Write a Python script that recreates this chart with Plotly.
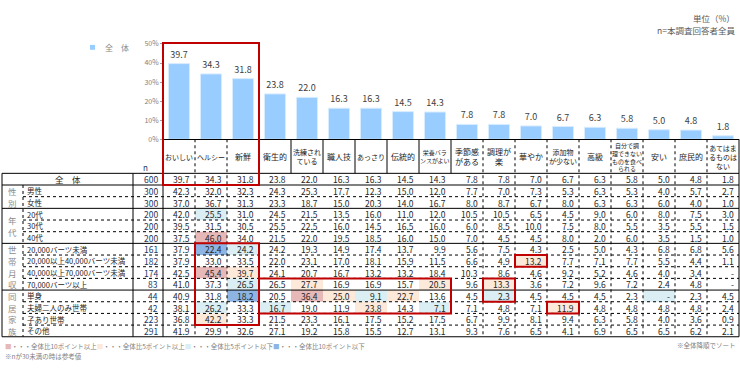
import plotly.graph_objects as go

# ---------------- data ----------------
categories = ["おいしい", "ヘルシー", "新鮮", "衛生的", "洗練され<br>ている", "職人技", "あっさり", "伝統的",
              "栄養バラ<br>ンスがよい", "季節感<br>がある", "調理が<br>楽", "華やか", "添加物<br>が少ない", "高級",
              "自分で調<br>理できない<br>ものを食べ<br>られる", "安い", "庶民的", "あてはま<br>るものは<br>ない"]

overall = [39.7, 34.3, 31.8, 23.8, 22.0, 16.3, 16.3, 14.5, 14.3, 7.8, 7.8, 7.0, 6.7, 6.3, 5.8, 5.0, 4.8, 1.8]
male = [42.3, 32.0, 32.3, 24.3, 25.3, 17.7, 12.3, 15.0, 12.0, 7.7, 7.0, 7.3, 5.3, 6.3, 5.3, 4.0, 5.7, 2.7]
female = [37.0, 36.7, 31.3, 23.3, 18.7, 15.0, 20.3, 14.0, 16.7, 8.0, 8.7, 6.7, 8.0, 6.3, 6.3, 6.0, 4.0, 1.0]
age20 = [42.0, 25.5, 31.0, 24.5, 21.5, 13.5, 16.0, 11.0, 12.0, 10.5, 10.5, 6.5, 4.5, 9.0, 6.0, 8.0, 7.5, 3.0]
age30 = [39.5, 31.5, 30.5, 25.5, 22.5, 16.0, 14.5, 16.5, 16.0, 6.0, 8.5, 10.0, 7.5, 8.0, 5.5, 3.5, 5.5, 1.5]
age40 = [37.5, 46.0, 34.0, 21.5, 22.0, 19.5, 18.5, 16.0, 15.0, 7.0, 4.5, 4.5, 8.0, 2.0, 6.0, 3.5, 1.5, 1.0]
inc_lt20k = [37.9, 22.4, 24.2, 24.2, 19.3, 14.9, 17.4, 13.7, 9.9, 5.6, 7.5, 4.3, 2.5, 5.0, 4.3, 6.8, 6.8, 5.6]
inc_20_40k = [37.9, 33.0, 33.5, 22.0, 23.1, 17.0, 18.1, 15.9, 11.5, 6.6, 4.9, 13.2, 7.7, 7.1, 7.7, 5.5, 4.4, 1.1]
inc_40_70k = [42.5, 45.4, 39.7, 24.1, 20.7, 16.7, 13.2, 13.2, 18.4, 10.3, 8.6, 4.6, 9.2, 5.2, 4.6, 4.0, 3.4, None]
inc_70k = [41.0, 37.3, 26.5, 26.5, 27.7, 16.9, 16.9, 15.7, 20.5, 9.6, 13.3, 3.6, 7.2, 9.6, 7.2, 2.4, 4.8, None]
single = [40.9, 31.8, 18.2, 20.5, 36.4, 25.0, 9.1, 22.7, 13.6, 4.5, 2.3, 4.5, 4.5, 4.5, 2.3, None, 2.3, 4.5]
couple = [38.1, 26.2, 33.3, 16.7, 19.0, 11.9, 23.8, 14.3, 7.1, 7.1, 4.8, 7.1, 11.9, 4.8, 4.8, 4.8, 4.8, 2.4]
with_kids = [36.8, 42.2, 33.3, 21.5, 23.3, 16.1, 17.5, 15.2, 17.5, 6.7, 9.9, 8.1, 9.4, 6.3, 5.8, 4.0, 3.6, 0.9]
other = [41.9, 29.9, 32.6, 27.1, 19.2, 15.8, 15.5, 12.7, 13.1, 9.3, 7.6, 6.5, 4.1, 6.9, 6.5, 6.5, 6.2, 2.1]

row_labels = ["全　体", "男性", "女性", "20代", "30代", "40代", "20,000バーツ未満", "20,000以上40,000バーツ未満",
              "40,000以上70,000バーツ未満", "70,000バーツ以上", "単身", "夫婦二人のみ世帯", "子あり世帯", "その他"]
n_values = [600, 300, 300, 200, 200, 200, 161, 182, 174, 83, 44, 42, 223, 291]
group_names = ["性別", "年代", "世帯月収", "同居家族"]
group_first_row = [1, 3, 6, 10]
group_last_row = [2, 5, 9, 13]
# emphasised blocks: (first col, last col, first row, last row); row None = from chart top
red_boxes = [(0, 2, None, 0), (1, 2, 6, 12), (3, 8, 9, 11), (10, 10, 9, 10), (11, 11, 7, 7), (12, 12, 11, 11)]

table_rows = [overall, male, female, age20, age30, age40, inc_lt20k, inc_20_40k, inc_40_70k, inc_70k,
              single, couple, with_kids, other]

# ---------------- geometry / style ----------------
W, H = 740, 368
COL_LEFT, COL_W = 163, 32
ROW_TOP, ROW_H = 172, 12
BASE_PX, TOP_PX = 137, 39
FONT = "Noto Sans CJK JP"
BAR_COLOR = "#99CCFF"
C_PINK, C_ORANGE, C_LBLUE, C_BLUE = "#E6B9B8", "#FDE9D9", "#DAEEF3", "#8DB4E2"
RED = "#C00000"
NCOL = len(categories)
NROW = len(table_rows)


def px2x(px):
    return (px - COL_LEFT) / COL_W - 0.5


def py2y(py):
    return (py - ROW_TOP) / ROW_H - 0.5


def band_color(v, base):
    d = (0.0 if v is None else v) - base
    if d >= 10 - 1e-9:
        return C_PINK
    if d >= 5 - 1e-9:
        return C_ORANGE
    if d <= -10 + 1e-9:
        return C_BLUE
    if d <= -5 + 1e-9:
        return C_LBLUE
    return None


fig = go.Figure()
fig.add_trace(go.Bar(
    x=list(range(NCOL)), y=overall, marker=dict(color=BAR_COLOR, line=dict(color="#D9ECFF", width=1)),
    text=[f"{v:.1f}" for v in overall], textposition="outside", cliponaxis=False,
    textfont=dict(size=9, color="#404040", family=FONT), hoverinfo="skip", width=0.66,
))

shapes = []
ann = []

top_y = py2y(BASE_PX)
bot_y = NROW - 0.5

# cell fills
for r in range(1, NROW):
    for c in range(NCOL):
        col = band_color(table_rows[r][c], overall[c])
        if col:
            shapes.append(dict(type="rect", xref="x2", yref="y2", x0=c - 0.5, x1=c + 0.5,
                               y0=r - 0.5, y1=r + 0.5, fillcolor=col, line=dict(width=0), layer="above"))


def hline(y, x0px, dash):
    shapes.append(dict(type="line", xref="x2", yref="y2", x0=px2x(x0px), x1=NCOL - 0.5, y0=y, y1=y,
                       line=dict(color="black", width=1, dash=dash)))


def vline(x, y0, y1, dash):
    shapes.append(dict(type="line", xref="x2", yref="y2", x0=x, x1=x, y0=y0, y1=y1,
                       line=dict(color="black", width=1, dash=dash)))


# horizontal lines
hline(-0.5, 2, "solid")
solid_after = [0] + group_last_row
for r in range(NROW):
    if r in solid_after:
        hline(r + 0.5, 2, "solid")
    else:
        hline(r + 0.5, 23, "dot")

# vertical lines
vline(px2x(2), -0.5, bot_y, "solid")
vline(px2x(23), 0.5, bot_y, "dot")
vline(px2x(133), -0.5, bot_y, "solid")
vline(-0.5, -0.5, bot_y, "solid")
vline(NCOL - 0.5, top_y, bot_y, "solid")
for b in range(1, NCOL):
    if 3 <= b <= 9:
        vline(b - 0.5, top_y, -0.5, "solid")
    else:
        vline(b - 0.5, top_y, bot_y, "dot")

# red boxes
for c0, c1, r0, r1 in red_boxes:
    y0 = py2y(TOP_PX - 1) if r0 is None else r0 - 0.5
    shapes.append(dict(type="rect", xref="x2", yref="y2", x0=c0 - 0.5, x1=c1 + 0.5, y0=y0, y1=r1 + 0.5,
                       line=dict(color=RED, width=2), fillcolor="rgba(0,0,0,0)"))

# header labels
hdr_y = py2y(155)
for c, lab in enumerate(categories):
    lines = lab.split("<br>")
    m = max(len(s) for s in lines)
    fs = 8 if m <= 3 else (7 if m <= 4 else 6)
    ann.append(dict(x=c, y=hdr_y, xref="x2", yref="y2", text=lab, showarrow=False,
                    font=dict(size=fs, color="#1a1a1a"), xanchor="center", yanchor="middle"))

# values
for r in range(NROW):
    for c in range(NCOL):
        v = table_rows[r][c]
        ann.append(dict(x=c + 0.5, y=r, xref="x2", yref="y2", text="-" if v is None else f"{v:.1f}",
                        showarrow=False, xanchor="right", yanchor="middle", xshift=-3,
                        font=dict(size=8.5, color="#262626")))
    ann.append(dict(x=px2x(160), y=r, xref="x2", yref="y2", text=str(n_values[r]), showarrow=False,
                    xanchor="right", yanchor="middle", font=dict(size=8.5, color="#203864")))
    if r == 0:
        ann.append(dict(x=px2x(68), y=r, xref="x2", yref="y2", text=row_labels[r], showarrow=False,
                        xanchor="center", yanchor="middle", font=dict(size=8.5, color="#262626")))
    else:
        ann.append(dict(x=px2x(25), y=r, xref="x2", yref="y2", text=row_labels[r], showarrow=False,
                        xanchor="left", yanchor="middle", font=dict(size=7.5, color="#262626")))

# group labels (vertical characters)
for name, g0, g1 in zip(group_names, group_first_row, group_last_row):
    mid = (g0 + g1) / 2
    k = len(name)
    for j, ch in enumerate(name):
        ann.append(dict(x=px2x(12.5), y=mid + (j - (k - 1) / 2), xref="x2", yref="y2", text=ch,
                        showarrow=False, xanchor="center", yanchor="middle", borderpad=0,
                        font=dict(size=8.5, color="#8C8C8C")))

ann.append(dict(x=px2x(145), y=py2y(166), xref="x2", yref="y2", text="n", showarrow=False,
                xanchor="center", yanchor="middle", font=dict(size=8, color="#203864")))

# top legend
shapes.append(dict(type="rect", xref="paper", yref="paper", x0=90 / W, x1=95 / W,
                   y0=1 - 45 / H, y1=1 - 40 / H, fillcolor=BAR_COLOR, line=dict(width=0)))
ann.append(dict(x=103 / W, y=1 - 42.5 / H, xref="paper", yref="paper", text="全　体", showarrow=False,
                xanchor="left", yanchor="middle", font=dict(size=8, color="#8C8C8C")))

# unit notes
ann.append(dict(x=737 / W, y=1 - 12 / H, xref="paper", yref="paper", text="単位（%）", showarrow=False,
                xanchor="right", yanchor="middle", font=dict(size=8.5, color="#595959")))
ann.append(dict(x=737 / W, y=1 - 25 / H, xref="paper", yref="paper", text="n=本調査回答者全員",
                showarrow=False, xanchor="right", yanchor="middle", font=dict(size=8.5, color="#595959")))

# bottom legend
leg = (f'<span style="color:{C_PINK}">■</span>・・・全体比10ポイント以上'
       f'<span style="color:{C_ORANGE}">■</span>・・・全体比5ポイント以上'
       f'<span style="color:{C_LBLUE}">■</span>・・・全体比5ポイント以下'
       f'<span style="color:{C_BLUE}">■</span>・・・全体比10ポイント以下')
ann.append(dict(x=3 / W, y=1 - 349 / H, xref="paper", yref="paper", text=leg, showarrow=False,
                xanchor="left", yanchor="middle", font=dict(size=6.5, color="#7F7F7F")))
ann.append(dict(x=3 / W, y=1 - 360 / H, xref="paper", yref="paper", text="※nが30未満の時は参考値",
                showarrow=False, xanchor="left", yanchor="middle", font=dict(size=6.5, color="#7F7F7F")))
ann.append(dict(x=738 / W, y=1 - 348 / H, xref="paper", yref="paper", text="※全体降順でソート",
                showarrow=False, xanchor="right", yanchor="middle", font=dict(size=6.5, color="#7F7F7F")))

fig.update_layout(
    width=W, height=H, autosize=False, margin=dict(l=0, r=0, t=0, b=0, pad=0),
    paper_bgcolor="white", plot_bgcolor="rgba(0,0,0,0)", showlegend=False,
    font=dict(family=FONT, color="#262626"),
    xaxis=dict(domain=[COL_LEFT / W, (COL_LEFT + NCOL * COL_W) / W], range=[-0.5, NCOL - 0.5],
               showticklabels=False, showgrid=False, zeroline=False, showline=True, linecolor="black",
               linewidth=1, ticks="", fixedrange=True),
    yaxis=dict(domain=[1 - BASE_PX / H, 1 - TOP_PX / H], range=[0, 50], tickvals=[0, 10, 20, 30, 40, 50],
               ticktext=["0%", "10%", "20%", "30%", "40%", "50%"],
               tickfont=dict(size=7, color="#808080"), showgrid=False, zeroline=False,
               showline=False, ticks="outside", ticklen=2, tickcolor="#A0A0A0", fixedrange=True),
    xaxis2=dict(domain=[0, 1], range=[px2x(0), px2x(W)], anchor="y2", visible=False, fixedrange=True),
    yaxis2=dict(domain=[0, 1], range=[py2y(H), py2y(0)], anchor="x2", visible=False, fixedrange=True),
    shapes=shapes, annotations=ann,
)

fig.write_html("out.html", config={"displayModeBar": False},
               post_script="document.body.style.margin='0';document.body.style.overflow='hidden';")
